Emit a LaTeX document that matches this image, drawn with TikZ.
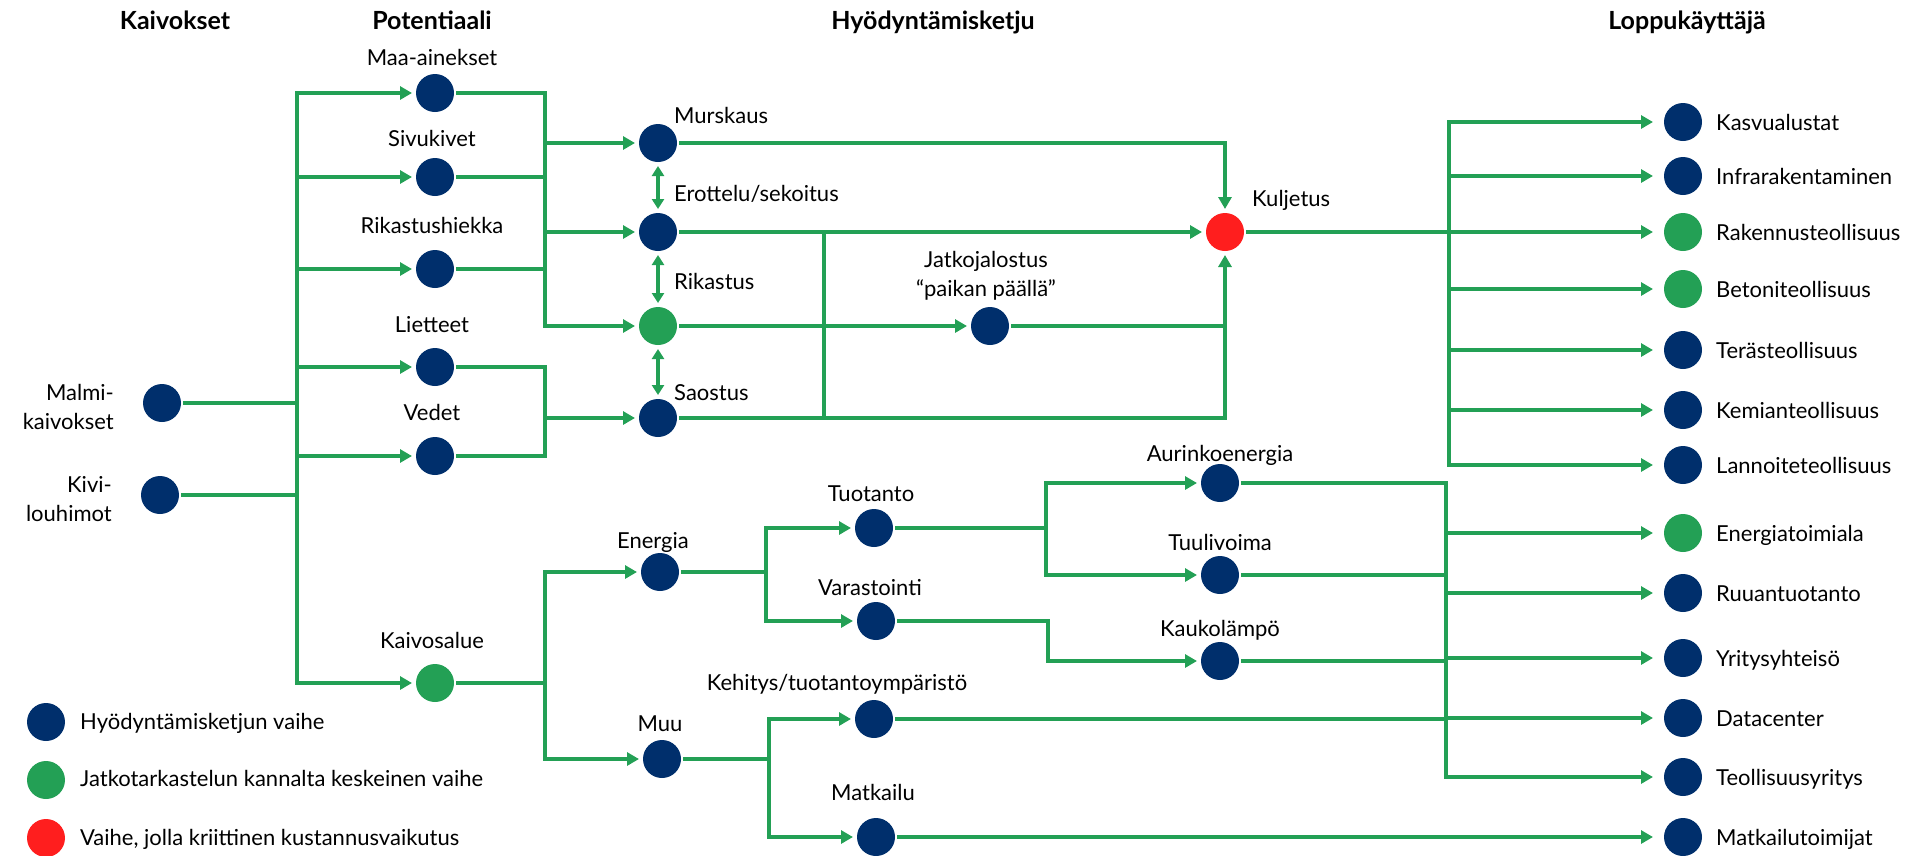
\documentclass[tikz,border=0pt]{standalone}
\usepackage{fontspec}
\setmainfont{Lato}
\usetikzlibrary{arrows.meta}
\definecolor{navy}{RGB}{0,47,108}
\definecolor{grn}{RGB}{35,160,85}
\definecolor{redc}{RGB}{255,30,30}
\newcommand\lblfont{\fontsize{22}{29}\selectfont}
\newcommand\hdfont{\fontsize{25}{30}\selectfont\bfseries}
\begin{document}
\begin{tikzpicture}[x=1pt,y=-1pt,
 ln/.style={draw=grn,line width=4pt,line cap=rect},
 arr/.style={ln,-{Triangle[length=12pt,width=13pt]}},
 arrE/.style={arr,shorten >=7pt},
 dar/.style={draw=grn,line width=3.5pt,{Triangle[length=10pt,width=12pt]}-{Triangle[length=10pt,width=12pt]}},
 dot/.style={circle,minimum size=38pt,inner sep=0pt,outer sep=4pt,fill=navy},
 gdot/.style={dot,fill=grn},
 rdot/.style={dot,fill=redc},
 lbl/.style={font=\lblfont,inner sep=0pt,anchor=mid,yshift=-4pt},
 lblw/.style={lbl,anchor=mid west},
 hd/.style={font=\hdfont,inner sep=0pt,anchor=mid,yshift=-4pt}]
\useasboundingbox (0,0) rectangle (1915,855);

% headings
\node[hd] (hK) at (175,23) {Kaivokset};
\node[hd] (hP) at (432,23) {Potentiaali};
\node[hd] (hH) at (933,23) {Hyödyntämisketju};
\node[hd] (hL) at (1687,23) {Loppukäyttäjä};

% mines
\node[dot] (malmi) at (162,403) {};
\node[lbl,align=right,anchor=east] (malmiL) at (114,403) {Malmi-\\kaivokset};
\node[dot] (kivi) at (160,495) {};
\node[lbl,align=right,anchor=east] (kiviL) at (112,495) {Kivi-\\louhimot};

% potential
\node[dot] (maa) at (435,93) {};
\node[dot] (sivu) at (435,177) {};
\node[dot] (rika) at (435,269) {};
\node[dot] (liet) at (435,367) {};
\node[dot] (vedet) at (435,456) {};
\node[gdot] (kaiv) at (435,683) {};
\node[lbl] (maaL) at (432,59) {Maa-ainekset};
\node[lbl] (sivuL) at (432,140) {Sivukivet};
\node[lbl] (rikaL) at (432,227) {Rikastushiekka};
\node[lbl] (lietL) at (432,326) {Lietteet};
\node[lbl] (vedetL) at (432,414) {Vedet};
\node[lbl] (kaivL) at (432,642) {Kaivosalue};

% processing chain
\node[dot] (murs) at (658,143) {};
\node[dot] (erot) at (658,232) {};
\node[gdot] (rikas) at (658,326) {};
\node[dot] (saos) at (658,418) {};
\node[lblw] (mursL) at (674,117) {Murskaus};
\node[lblw] (erotL) at (674,195) {Erottelu/sekoitus};
\node[lblw] (rikasL) at (674,283) {Rikastus};
\node[lblw] (saosL) at (674,394) {Saostus};
\node[dot] (jatko) at (990,326) {};
\node[lbl,align=center,anchor=center] (jatkoL) at (986,272) {Jatkojalostus\\“paikan päällä”};
\node[rdot] (kulj) at (1225,232) {};
\node[lblw] (kuljL) at (1252,200) {Kuljetus};

% energy / other
\node[dot] (ener) at (660,572) {};
\node[dot] (muu) at (662,759) {};
\node[lbl] (enerL) at (653,542) {Energia};
\node[lbl] (muuL) at (660,725) {Muu};
\node[dot] (tuot) at (874,528) {};
\node[dot] (vara) at (876,621) {};
\node[lbl] (tuotL) at (871,495) {Tuotanto};
\node[lbl] (varaL) at (870,589) {Varastointi};
\node[dot] (aur) at (1220,483) {};
\node[dot] (tuuli) at (1220,575) {};
\node[dot] (kauko) at (1220,661) {};
\node[lbl] (aurL) at (1220,455) {Aurinkoenergia};
\node[lbl] (tuuliL) at (1220,544) {Tuulivoima};
\node[lbl] (kaukoL) at (1220,630) {Kaukolämpö};
\node[dot] (kehi) at (874,719) {};
\node[dot] (matkailu) at (876,837) {};
\node[lbl] (kehiL) at (837,684) {Kehitys/tuotantoympäristö};
\node[lbl] (matkailuL) at (873,794) {Matkailu};

% end users
\node[dot] (kasv) at (1683,122) {};
\node[dot] (infra) at (1683,176) {};
\node[gdot] (rak) at (1683,232) {};
\node[gdot] (bet) at (1683,289) {};
\node[dot] (teras) at (1683,350) {};
\node[dot] (kemi) at (1683,410) {};
\node[dot] (lann) at (1683,465) {};
\node[gdot] (entoi) at (1683,533) {};
\node[dot] (ruua) at (1683,593) {};
\node[dot] (yrit) at (1683,658) {};
\node[dot] (data) at (1683,718) {};
\node[dot] (teol) at (1683,777) {};
\node[dot] (matk) at (1683,837) {};
\node[lblw] (kasvL) at (1716,124) {Kasvualustat};
\node[lblw] (infraL) at (1716,178) {Infrarakentaminen};
\node[lblw] (rakL) at (1716,234) {Rakennusteollisuus};
\node[lblw] (betL) at (1716,291) {Betoniteollisuus};
\node[lblw] (terasL) at (1716,352) {Terästeollisuus};
\node[lblw] (kemiL) at (1716,412) {Kemianteollisuus};
\node[lblw] (lannL) at (1716,467) {Lannoiteteollisuus};
\node[lblw] (entoiL) at (1716,535) {Energiatoimiala};
\node[lblw] (ruuaL) at (1716,595) {Ruuantuotanto};
\node[lblw] (yritL) at (1716,660) {Yritysyhteisö};
\node[lblw] (dataL) at (1716,720) {Datacenter};
\node[lblw] (teolL) at (1716,779) {Teollisuusyritys};
\node[lblw] (matkL) at (1716,839) {Matkailutoimijat};

% legend
\node[dot] (lg1) at (46,722) {};
\node[gdot] (lg2) at (46,780) {};
\node[rdot] (lg3) at (46,838) {};
\node[lblw] (lg1L) at (80,723) {Hyödyntämisketjun vaihe};
\node[lblw] (lg2L) at (80,780) {Jatkotarkastelun kannalta keskeinen vaihe};
\node[lblw] (lg3L) at (80,839) {Vaihe, jolla kriittinen kustannusvaikutus};

% trunk coordinates
\coordinate (tL1) at (297,93);
\coordinate (tL2) at (297,683);
\coordinate (tA2) at (545,326);
\coordinate (tB2) at (545,456);
\coordinate (tC1) at (545,572);
\coordinate (tC2) at (545,759);
\coordinate (j1t) at (824,232);
\coordinate (j1b) at (824,418);
\coordinate (j2t) at (766,528);
\coordinate (j2b) at (766,621);
\coordinate (j3t) at (1046,483);
\coordinate (j3b) at (1046,575);
\coordinate (j5) at (1048,661);
\coordinate (j4t) at (769,719);
\coordinate (j4b) at (769,837);
\coordinate (eT) at (1449,122);
\coordinate (eB) at (1449,465);
\coordinate (dT) at (1446,483);
\coordinate (dB) at (1446,777);

% left trunk
\draw[ln] (tL1) -- (tL2);
\draw[ln] (malmi) -- (malmi -| tL1);
\draw[ln] (kivi) -- (kivi -| tL1);
\draw[arr] (tL1) -- (maa);
\draw[arr] (sivu -| tL1) -- (sivu);
\draw[arr] (rika -| tL1) -- (rika);
\draw[arr] (liet -| tL1) -- (liet);
\draw[arr] (vedet -| tL1) -- (vedet);
\draw[arr] (tL2) -- (kaiv);

% potential to chain
\draw[ln] (maa) -| (tA2);
\draw[ln] (sivu) -- (sivu -| tA2);
\draw[ln] (rika) -- (rika -| tA2);
\draw[arr] (murs -| tA2) -- (murs);
\draw[arr] (erot -| tA2) -- (erot);
\draw[arr] (tA2) -- (rikas);
\draw[ln] (liet) -| (tB2) -- (vedet);
\draw[arr] (saos -| tB2) -- (saos);

% chain internal
\draw[dar] (murs) -- (erot);
\draw[dar] (erot) -- (rikas);
\draw[dar] (rikas) -- (saos);
\draw[ln] (j1t) -- (j1b);
\draw[arr] (murs) -| (kulj);
\draw[arr] (erot) -- (kulj);
\draw[arr] (rikas) -- (jatko);
\draw[arr] (saos) -| (kulj);
\draw[ln] (jatko) -- (jatko -| kulj);

% to end users (upper)
\draw[ln] (kulj) -- (kulj -| eT);
\draw[ln] (eT) -- (eB);
\draw[arrE] (eT) -- (kasv);
\draw[arrE] (infra -| eT) -- (infra);
\draw[arrE] (rak -| eT) -- (rak);
\draw[arrE] (bet -| eT) -- (bet);
\draw[arrE] (teras -| eT) -- (teras);
\draw[arrE] (kemi -| eT) -- (kemi);
\draw[arrE] (eB) -- (lann);

% lower part
\draw[ln] (kaiv) -- (kaiv -| tC1);
\draw[ln] (tC1) -- (tC2);
\draw[arr] (tC1) -- (ener);
\draw[arr] (tC2) -- (muu);
\draw[ln] (ener) -- (ener -| j2t);
\draw[ln] (j2t) -- (j2b);
\draw[arr] (j2t) -- (tuot);
\draw[arr] (j2b) -- (vara);
\draw[ln] (tuot) -- (tuot -| j3t);
\draw[ln] (j3t) -- (j3b);
\draw[arr] (j3t) -- (aur);
\draw[arr] (j3b) -- (tuuli);
\draw[arr] (vara) -| (j5) -- (kauko);
\draw[ln] (muu) -- (muu -| j4t);
\draw[ln] (j4t) -- (j4b);
\draw[arr] (j4t) -- (kehi);
\draw[arr] (j4b) -- (matkailu);

% to end users (lower)
\draw[ln] (aur) -- (dT) -- (dB);
\draw[ln] (tuuli) -- (tuuli -| dT);
\draw[ln] (kauko) -- (kauko -| dT);
\draw[ln] (kehi) -- (kehi -| dT);
\draw[arrE] (entoi -| dT) -- (entoi);
\draw[arrE] (ruua -| dT) -- (ruua);
\draw[arrE] (yrit -| dT) -- (yrit);
\draw[arrE] (data -| dT) -- (data);
\draw[arrE] (dB) -- (teol);
\draw[arrE] (matkailu) -- (matk);
\end{tikzpicture}
\end{document}
